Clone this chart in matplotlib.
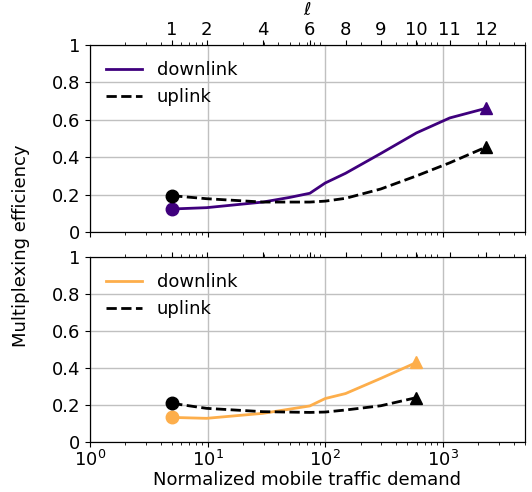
import numpy as np
import matplotlib.pyplot as plt

# traffic demand values (x) and efficiencies
ell_labels = ['1', '2', '4', '6', '8', '9', '10', '11', '12']
ell_pos = [5, 9.8, 29.5, 74, 149, 297, 597, 1145, 2345]

x_top = [5, 9.8, 29.5, 50, 74, 100, 149, 297, 597, 1145, 2345]
dl_top = [0.123, 0.13, 0.16, 0.185, 0.207, 0.262, 0.314, 0.42, 0.53, 0.61, 0.662]
ul_top = [0.194, 0.178, 0.16, 0.16, 0.16, 0.165, 0.18, 0.23, 0.30, 0.37, 0.455]

x_bot = [5, 9.8, 29.5, 74, 100, 149, 297, 597]
dl_bot = [0.133, 0.128, 0.155, 0.195, 0.235, 0.262, 0.344, 0.43]
ul_bot = [0.209, 0.182, 0.164, 0.16, 0.162, 0.173, 0.196, 0.24]

purple = '#3f007d'
orange = '#fdae4b'

fig = plt.figure(figsize=(5.32, 4.92), dpi=100)
ax1 = fig.add_axes([0.169, 0.5285, 0.818, 0.38])
ax2 = fig.add_axes([0.169, 0.1016, 0.818, 0.376], sharex=ax1)

for ax, x, dl, ul, c in [(ax1, x_top, dl_top, ul_top, purple),
                         (ax2, x_bot, dl_bot, ul_bot, orange)]:
    ax.plot(x, dl, '-', color=c, lw=2, label='downlink')
    ax.plot(x, ul, '--', color='black', lw=2, label='uplink')
    ax.plot(x[0], dl[0], 'o', color=c, ms=9)
    ax.plot(x[-1], dl[-1], '^', color=c, ms=9)
    ax.plot(x[0], ul[0], 'o', color='black', ms=9)
    ax.plot(x[-1], ul[-1], '^', color='black', ms=9)
    ax.set_xscale('log')
    ax.set_xlim(1, 5000)
    ax.set_ylim(0, 1)
    ax.set_yticks([0, 0.2, 0.4, 0.6, 0.8, 1])
    ax.set_yticklabels(['0', '0.2', '0.4', '0.6', '0.8', '1'])
    ax.grid(True, which='major', color='#c0c0c0', lw=1)
    ax.tick_params(labelsize=13)
    ax.tick_params(axis='x', pad=2)
    ax.legend(loc='upper left', fontsize=13, frameon=False)

    top = ax.twiny()
    top.set_xscale('log')
    top.set_xlim(1, 5000)
    top.set_xticks(ell_pos)
    if ax is ax1:
        top.set_xticklabels(ell_labels, fontsize=13)
        top.tick_params(axis='x', pad=1)
        top.set_xlabel(r'$\ell$', fontsize=13, labelpad=4)
    else:
        top.set_xticklabels([])

plt.setp(ax1.get_xticklabels(), visible=False)
ax2.set_xlabel('Normalized mobile traffic demand', fontsize=13, labelpad=1)
fig.text(0.04, 0.5, 'Multiplexing efficiency', rotation=90,
         va='center', ha='center', fontsize=13)

fig.savefig('out.png', dpi=100)
